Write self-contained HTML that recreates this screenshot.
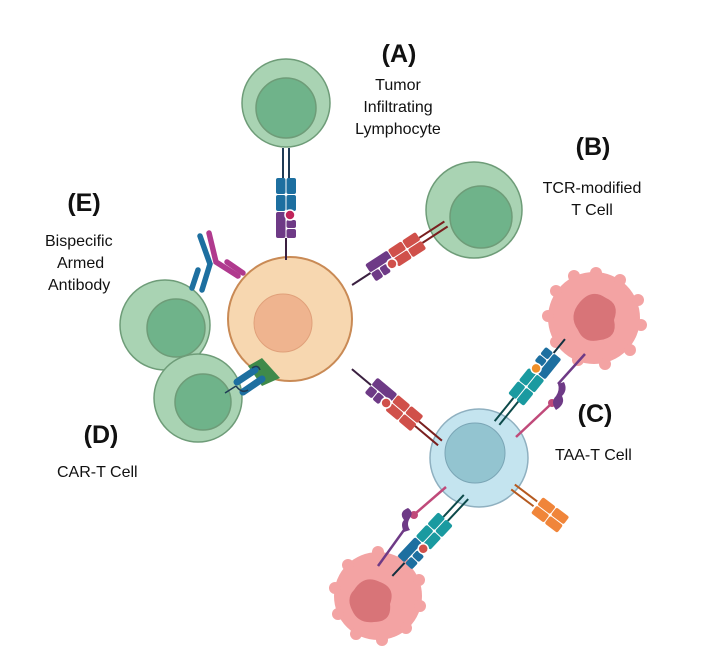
<!DOCTYPE html>
<html><head><meta charset="utf-8"><style>
html,body{margin:0;padding:0;background:#fff;width:701px;height:654px;overflow:hidden}
svg{display:block}
text{font-family:"Liberation Sans",sans-serif;fill:#111}
.b{font-weight:bold;font-size:25px}
.t{font-size:16px}
</style></head><body>
<svg width="701" height="654" viewBox="0 0 701 654" xmlns="http://www.w3.org/2000/svg">
<!-- green T cells -->
<g stroke="#6e9c78" stroke-width="1.5">
<circle cx="286" cy="103" r="44" fill="#a9d3b3"/><circle cx="286" cy="108" r="30" fill="#6fb38a"/>
<circle cx="474" cy="210" r="48" fill="#a9d3b3"/><circle cx="481" cy="217" r="31" fill="#6fb38a"/>
<circle cx="165" cy="325" r="45" fill="#a9d3b3"/><circle cx="176" cy="328" r="29" fill="#6fb38a"/>
<circle cx="198" cy="398" r="44" fill="#a9d3b3"/><circle cx="203" cy="402" r="28" fill="#6fb38a"/>
</g>
<!-- tumour cells -->
<g fill="#f3a3a3">
<circle cx="594" cy="318" r="46"/>
<circle cx="596" cy="273" r="6"/><circle cx="620" cy="280" r="6"/><circle cx="638" cy="300" r="6"/><circle cx="641" cy="325" r="6"/><circle cx="630" cy="350" r="6"/><circle cx="605" cy="364" r="6"/><circle cx="578" cy="360" r="6"/><circle cx="556" cy="342" r="6"/><circle cx="548" cy="316" r="6"/><circle cx="556" cy="291" r="6"/><circle cx="574" cy="276" r="6"/>
<circle cx="378" cy="596" r="44"/>
<circle cx="378" cy="552" r="6"/><circle cx="402" cy="560" r="6"/><circle cx="419" cy="580" r="6"/><circle cx="420" cy="606" r="6"/><circle cx="406" cy="628" r="6"/><circle cx="382" cy="640" r="6"/><circle cx="356" cy="634" r="6"/><circle cx="338" cy="614" r="6"/><circle cx="335" cy="588" r="6"/><circle cx="348" cy="565" r="6"/>
</g>
<path d="M580 302 q12-14 26-4 q14 6 8 22 q4 18-14 20 q-16 4-22-10 q-10-14 2-28z" fill="#d87478"/>
<path d="M354 590 q10-16 26-8 q16 6 10 22 q2 18-16 18 q-16 2-22-12 q-6-12 2-20z" fill="#d87478"/>
<!-- central tumour cell -->
<circle cx="290" cy="319" r="62" fill="#f7d7b0" stroke="#c98a55" stroke-width="2"/>
<circle cx="283" cy="323" r="29" fill="#efb48f" stroke="#e0a07a" stroke-width="1"/>
<!-- TAA T cell -->
<circle cx="479" cy="458" r="49" fill="#c4e4ef" stroke="#8fb0c0" stroke-width="1.5"/>
<circle cx="475" cy="453" r="30" fill="#93c4d0" stroke="#7aa5b5" stroke-width="1"/>

<!-- receptor A -->
<g transform="translate(286,148)">
<line x1="-3" y1="0" x2="-3" y2="30" stroke="#1f3b55" stroke-width="2"/><line x1="3" y1="0" x2="3" y2="30" stroke="#1f3b55" stroke-width="2"/>
<g fill="#1d6fa0"><rect x="-10" y="30" width="9.5" height="16" rx="2"/><rect x="-10" y="47" width="9.5" height="16" rx="2"/><rect x="0.5" y="30" width="9.5" height="16" rx="2"/><rect x="0.5" y="47" width="9.5" height="16" rx="2"/></g>
<g fill="#6e3a86"><rect x="-10" y="64" width="9.5" height="26" rx="2"/><rect x="0.5" y="72" width="9.5" height="8" rx="2"/><rect x="0.5" y="81" width="9.5" height="9" rx="2"/></g>
<circle cx="4" cy="67" r="5" fill="#c0245a" stroke="#fff" stroke-width="1.5"/>
<line x1="0" y1="90" x2="0" y2="112" stroke="#3a2040" stroke-width="2"/>
</g>
<!-- receptor B -->
<g transform="translate(446,224) rotate(57)">
<line x1="-3" y1="0" x2="-3" y2="30" stroke="#7a1f1f" stroke-width="2"/><line x1="3" y1="0" x2="3" y2="30" stroke="#7a1f1f" stroke-width="2"/>
<g fill="#d0504a"><rect x="-10" y="30" width="9.5" height="16" rx="2"/><rect x="-10" y="47" width="9.5" height="16" rx="2"/><rect x="0.5" y="30" width="9.5" height="16" rx="2"/><rect x="0.5" y="47" width="9.5" height="16" rx="2"/></g>
<g fill="#6e3a86"><rect x="-10" y="64" width="9.5" height="26" rx="2"/><rect x="0.5" y="72" width="9.5" height="8" rx="2"/><rect x="0.5" y="81" width="9.5" height="9" rx="2"/></g>
<circle cx="4" cy="67" r="5" fill="#d0504a" stroke="#fff" stroke-width="1.5"/>
<line x1="0" y1="90" x2="0" y2="112" stroke="#3a2040" stroke-width="2"/>
</g>
<!-- receptor bottom -->
<g transform="translate(440,443) rotate(130)">
<line x1="-3" y1="0" x2="-3" y2="30" stroke="#7a1f1f" stroke-width="2"/><line x1="3" y1="0" x2="3" y2="30" stroke="#7a1f1f" stroke-width="2"/>
<g fill="#d0504a"><rect x="-10" y="30" width="9.5" height="16" rx="2"/><rect x="-10" y="47" width="9.5" height="16" rx="2"/><rect x="0.5" y="30" width="9.5" height="16" rx="2"/><rect x="0.5" y="47" width="9.5" height="16" rx="2"/></g>
<g fill="#6e3a86"><rect x="-10" y="64" width="9.5" height="26" rx="2"/><rect x="0.5" y="72" width="9.5" height="8" rx="2"/><rect x="0.5" y="81" width="9.5" height="9" rx="2"/></g>
<circle cx="4" cy="67" r="5" fill="#d0504a" stroke="#fff" stroke-width="1.5"/>
<line x1="0" y1="90" x2="0" y2="115" stroke="#3a2040" stroke-width="2"/>
</g>
<!-- TAA receptor upper -->
<g transform="translate(497,423) rotate(-141)">
<line x1="-3" y1="0" x2="-3" y2="30" stroke="#0d4a4a" stroke-width="2"/><line x1="3" y1="0" x2="3" y2="30" stroke="#0d4a4a" stroke-width="2"/>
<g fill="#1a9aa0"><rect x="-10" y="30" width="9.5" height="16" rx="2"/><rect x="-10" y="47" width="9.5" height="16" rx="2"/><rect x="0.5" y="30" width="9.5" height="16" rx="2"/><rect x="0.5" y="47" width="9.5" height="16" rx="2"/></g>
<g fill="#1d6fa0"><rect x="-10" y="64" width="9.5" height="26" rx="2"/><rect x="0.5" y="72" width="9.5" height="8" rx="2"/><rect x="0.5" y="81" width="9.5" height="9" rx="2"/></g>
<circle cx="4" cy="67" r="5" fill="#f0902a" stroke="#fff" stroke-width="1.5"/>
<line x1="0" y1="90" x2="0" y2="108" stroke="#123040" stroke-width="2"/>
</g>
<!-- TAA receptor lower -->
<g transform="translate(466,497) rotate(43)">
<line x1="-3" y1="0" x2="-3" y2="30" stroke="#0d4a4a" stroke-width="2"/><line x1="3" y1="0" x2="3" y2="30" stroke="#0d4a4a" stroke-width="2"/>
<g fill="#1a9aa0"><rect x="-10" y="30" width="9.5" height="16" rx="2"/><rect x="-10" y="47" width="9.5" height="16" rx="2"/><rect x="0.5" y="30" width="9.5" height="16" rx="2"/><rect x="0.5" y="47" width="9.5" height="16" rx="2"/></g>
<g fill="#1d6fa0"><rect x="-10" y="64" width="9.5" height="26" rx="2"/><rect x="0.5" y="72" width="9.5" height="8" rx="2"/><rect x="0.5" y="81" width="9.5" height="9" rx="2"/></g>
<circle cx="4" cy="67" r="5" fill="#d0504a" stroke="#fff" stroke-width="1.5"/>
<line x1="0" y1="90" x2="0" y2="108" stroke="#123040" stroke-width="2"/>
</g>
<!-- antigen ligands -->
<line x1="516" y1="437" x2="550" y2="405" stroke="#c04a7a" stroke-width="2.5"/>
<circle cx="552" cy="403" r="4" fill="#c04a7a"/>
<path d="M556 410 q-6-8 0-14 q4-6 2-12 l6-2 q4 8-2 14 q4 8-6 14z" fill="#6e3a86"/>
<line x1="558" y1="384" x2="585" y2="354" stroke="#6e3a86" stroke-width="2.5"/>
<line x1="446" y1="487" x2="416" y2="513" stroke="#c04a7a" stroke-width="2.5"/>
<circle cx="414" cy="515" r="4" fill="#c04a7a"/>
<path d="M408 508 q6 4 2 10 q-4 6 0 12 l-6 2 q-4-8 0-12 q-6-8 4-12z" fill="#6e3a86"/>
<line x1="404" y1="530" x2="378" y2="566" stroke="#6e3a86" stroke-width="2.5"/>
<!-- orange receptor -->
<g transform="translate(513,487) rotate(-53)">
<line x1="-3" y1="0" x2="-3" y2="28" stroke="#b55a20" stroke-width="2"/><line x1="3" y1="0" x2="3" y2="28" stroke="#b55a20" stroke-width="2"/>
<g fill="#f0853a"><rect x="-10" y="30" width="9.5" height="16" rx="2"/><rect x="-10" y="47" width="9.5" height="16" rx="2"/><rect x="0.5" y="30" width="9.5" height="16" rx="2"/><rect x="0.5" y="47" width="9.5" height="16" rx="2"/></g>
</g>
<!-- bispecific antibody -->
<g stroke-linecap="round" fill="none" stroke-width="5.5">
<path d="M200 236 L210 264 L202 290" stroke="#1d6fa0"/>
<path d="M198 270 L192 288" stroke="#1d6fa0"/>
<path d="M209 233 L216 262 L238 276" stroke="#b03a8e"/>
<path d="M227 262 L243 273" stroke="#b03a8e"/>
</g>
<!-- CAR -->
<path d="M248 366 L262 358 L280 378 L262 386 Z" fill="#3f8a4a"/>
<line x1="236" y1="386" x2="225" y2="393" stroke="#1f3b55" stroke-width="1.5"/>
<g stroke="#1d6fa0" stroke-width="7" stroke-linecap="round">
<line x1="237" y1="382" x2="255" y2="370"/>
<line x1="243" y1="392" x2="262" y2="379"/>
</g>
<path d="M236 386 q6 8 12 4 M252 368 q6-4 8 2" stroke="#1f3b55" stroke-width="1.5" fill="none"/>

<!-- labels -->
<text class="b" x="399" y="62" text-anchor="middle">(A)</text>
<text class="t" x="398" y="90" text-anchor="middle">Tumor</text>
<text class="t" x="398" y="112" text-anchor="middle">Infiltrating</text>
<text class="t" x="398" y="134" text-anchor="middle">Lymphocyte</text>
<text class="b" x="593" y="155" text-anchor="middle">(B)</text>
<text class="t" x="592" y="193" text-anchor="middle">TCR-modified</text>
<text class="t" x="592" y="215" text-anchor="middle">T Cell</text>
<text class="b" x="84" y="211" text-anchor="middle">(E)</text>
<text class="t" x="45" y="246">Bispecific</text>
<text class="t" x="57" y="268">Armed</text>
<text class="t" x="48" y="290">Antibody</text>
<text class="b" x="101" y="443" text-anchor="middle">(D)</text>
<text class="t" x="57" y="477">CAR-T Cell</text>
<text class="b" x="595" y="422" text-anchor="middle">(C)</text>
<text class="t" x="555" y="460">TAA-T Cell</text>
</svg>
</body></html>
